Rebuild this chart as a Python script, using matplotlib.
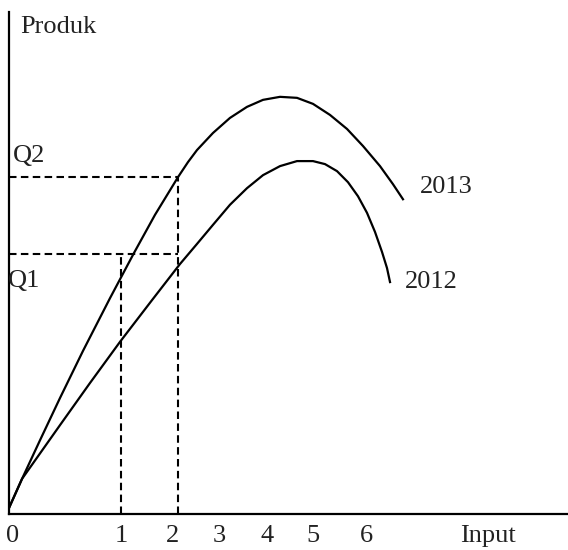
import matplotlib
matplotlib.use("Agg")
import matplotlib.pyplot as plt

plt.rcParams["font.family"] = ["Liberation Serif", "DejaVu Serif"]

# curve readings (x in input units of the drawing, y in product units)
x_2013 = [0, 0.233, 0.555, 0.912, 1.324, 1.807, 2.236, 2.612, 3.023, 3.202, 3.363, 3.649,
          3.953, 4.257, 4.544, 4.848, 5.152, 5.438, 5.742, 6.047, 6.333, 6.637, 6.869, 7.048]
y_2013 = [0.12, 0.70, 1.47, 2.31, 3.25, 4.30, 5.20, 5.96, 6.71, 7.01, 7.25, 7.59,
          7.89, 8.11, 8.25, 8.31, 8.29, 8.17, 7.95, 7.67, 7.33, 6.93, 6.57, 6.27]

x_2012 = [0, 0.233, 0.912, 1.449, 1.986, 2.558, 3.059, 3.363, 3.649, 3.953, 4.257, 4.544,
          4.848, 5.152, 5.438, 5.653, 5.868, 6.064, 6.243, 6.404, 6.547, 6.673, 6.762, 6.816]
y_2012 = [0.12, 0.70, 1.77, 2.61, 3.43, 4.26, 4.98, 5.38, 5.76, 6.16, 6.49, 6.75,
          6.93, 7.03, 7.03, 6.97, 6.83, 6.61, 6.33, 6.00, 5.62, 5.22, 4.90, 4.62]

# guide levels
q_levels = [5.18, 6.71]
q_inputs = [2.00, 3.02]
q_right = 3.02

tick_pos = [0.07, 2.0, 2.93, 3.77, 4.62, 5.44, 6.40, 8.57]
tick_labels = ["0", "1", "2", "3", "4", "5", "6", "Input"]

fig = plt.figure(figsize=(5.68, 5.5), dpi=100)
ax = fig.add_axes([9 / 568, 36 / 550, 559 / 568, 502 / 550])
ax.set_xlim(0, 10)
ax.set_ylim(0, 10)

dash = (0, (3.6, 2.1))
for q, xi in zip(q_levels, q_inputs):
    ax.plot([0, q_right], [q, q], color="black", lw=1.5, ls=dash)
    ax.plot([xi, xi], [0, q], color="black", lw=1.5, ls=dash)

ax.plot(x_2013, y_2013, color="black", lw=1.6, solid_joinstyle="round")
ax.plot(x_2012, y_2012, color="black", lw=1.6, solid_joinstyle="round")

for side in ["top", "right"]:
    ax.spines[side].set_visible(False)
for side in ["left", "bottom"]:
    ax.spines[side].set_linewidth(1.6)

ax.set_yticks([])
ax.set_xticks(tick_pos, tick_labels)
ax.tick_params(axis="x", length=0, pad=8, labelsize=19, labelcolor="#222222")

txt = dict(fontsize=19, color="#222222", va="baseline", clip_on=False)
ax.text(0.20, 9.58, "Produk", **txt)
ax.text(0.07, 7.01, "Q2", **txt)
ax.text(-0.02, 4.52, "Q1", **txt)
ax.text(7.35, 6.39, "2013", **txt)
ax.text(7.08, 4.50, "2012", **txt)

fig.savefig("out.png", dpi=100)
